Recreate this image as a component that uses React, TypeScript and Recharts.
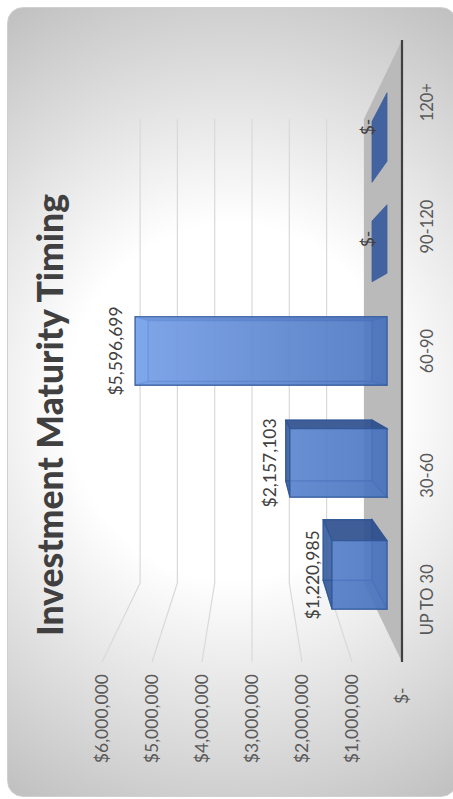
import React from 'react';
import { BarChart, Bar, XAxis, YAxis, CartesianGrid, LabelList } from 'recharts';

const categories = ['UP TO 30', '30-60', '60-90', '90-120', '120+'];
const amounts = [1220985, 2157103, 5596699, 0, 0];
const valueTicks = [0, 1000000, 2000000, 3000000, 4000000, 5000000, 6000000];

const data = categories.map((name, i) => ({ name, amount: amounts[i] }));

// fake perspective: everything is scaled toward a vanishing point
const VX = 448;
const VY = 252;
const BAR_FRONT = 0.9;
const BAR_BACK = 0.8;
const WALL = 0.746;

const project = (x: number, y: number, s: number) => [VX + (x - VX) * s, VY + (y - VY) * s];
const pts = (list: number[][]) => list.map((p) => p.join(',')).join(' ');

const money = (v: number) => (v === 0 ? '$-' : '$' + v.toLocaleString('en-US'));

// the zero line of the grid is the floor, the others climb the back wall
function Grid3D(props: any) {
    const { x1, x2, y1 } = props;
    if (y1 > 400) {
        const floor = [project(x1, y1, 1), project(x2, y1, 1), project(x2, y1, WALL), project(x1, y1, WALL)];
        return <polygon key="floor" points={pts(floor)} fill="#bababa" />;
    }
    const line = [project(x1, y1, 1), project(x1, y1, WALL), project(x2, y1, WALL)];
    return <polyline key={y1} points={pts(line)} fill="none" stroke="#d9d9d9" strokeWidth={1.2} />;
}

function Box3D(props: any) {
    const { x, y, width, height } = props;
    const l = x;
    const r = x + width;
    const t = y;
    const b = y + height;
    const f = (px: number, py: number) => project(px, py, BAR_FRONT);
    const k = (px: number, py: number) => project(px, py, BAR_BACK);
    const flat = height < 1;
    const topFill = t < VY ? '#7ba4ea' : '#2f5597';
    const edge = { stroke: '#2f5597', strokeOpacity: 0.75, strokeWidth: 1.2 };
    if (flat) {
        return <polygon points={pts([f(l, t), f(r, t), k(r, t), k(l, t)])} fill="#42639f" stroke="#3d5f9e" strokeWidth={0.8} />;
    }
    return (
        <g>
            <polygon points={pts([k(l, t), k(r, t), k(r, b), k(l, b)])} fill="#4a73ba" fillOpacity={0.55} {...edge} />
            <polygon points={pts([f(l, b), f(r, b), k(r, b), k(l, b)])} fill="#3a5fa3" fillOpacity={0.7} {...edge} />
            <polygon points={pts([f(l, t), f(l, b), k(l, b), k(l, t)])} fill="#3a62aa" fillOpacity={0.6} {...edge} />
            <polygon points={pts([f(r, t), f(r, b), k(r, b), k(r, t)])} fill="#2f4f8c" fillOpacity={0.85} {...edge} />
            <polygon points={pts([f(l, t), f(r, t), k(r, t), k(l, t)])} fill={topFill} fillOpacity={0.75} {...edge} />
            <polygon points={pts([f(l, t), f(r, t), f(r, b), f(l, b)])} fill="url(#barFace)" fillOpacity={0.82} {...edge} />
        </g>
    );
}

function BoxLabel(props: any) {
    const { x, y, width, value } = props;
    const [px, py] = project(x + width / 2, y, BAR_FRONT);
    return (
        <text x={px} y={py - 20} textAnchor="middle" dominantBaseline="central" fill="#404040" fontSize={17.5} fontFamily="Lato">
            {money(value)}
        </text>
    );
}

export default function App() {
    return (
        <div style={{ position: 'absolute', left: 0, top: 0, width: 453, height: 799, overflow: 'hidden', background: '#fff' }}>
            <div
                style={{
                    position: 'absolute',
                    left: 0,
                    top: 0,
                    width: 799,
                    height: 453,
                    transformOrigin: '0 0',
                    transform: 'translateY(799px) rotate(-90deg)',
                }}
            >
                <div
                    style={{
                        position: 'absolute',
                        left: 2,
                        top: 7,
                        width: 790,
                        height: 450,
                        boxSizing: 'border-box',
                        borderRadius: 16,
                        border: '1px solid #d0d0d0',
                        background: 'radial-gradient(ellipse 395px 366px at 50% 50%, #ffffff 45%, #cfcfcf 100%, #b8b8b8 125%)',
                    }}
                />
                <div
                    style={{
                        position: 'absolute',
                        left: 0,
                        width: 768,
                        top: 28,
                        textAlign: 'center',
                        fontFamily: 'Lato',
                        fontWeight: 900,
                        fontSize: 35.5,
                        lineHeight: '44px',
                        color: '#404040',
                    }}
                >
                    Investment Maturity Timing
                </div>
                <div style={{ position: 'absolute', left: 0, top: 0 }}>
                    <BarChart
                        width={799}
                        height={453}
                        data={data}
                        barCategoryGap="19.5%"
                        margin={{ top: 102, right: 40, bottom: 21, left: 37 }}
                    >
                        <defs>
                            <linearGradient id="barFace" gradientUnits="userSpaceOnUse" x1="0" y1="120" x2="0" y2="400">
                                <stop offset="0%" stopColor="#7ca6ee" />
                                <stop offset="100%" stopColor="#4a74bf" />
                            </linearGradient>
                        </defs>
                        <CartesianGrid vertical={false} horizontal={Grid3D} />
                        <XAxis
                            dataKey="name"
                            height={30}
                            interval={0}
                            tickLine={false}
                            axisLine={{ stroke: '#404040', strokeWidth: 2.2 }}
                            tick={{ fill: '#595959', fontSize: 16.5, fontFamily: 'Lato' }}
                            tickMargin={13}
                        />
                        <YAxis
                            width={100}
                            domain={[0, 6000000]}
                            ticks={valueTicks}
                            tickFormatter={(v: number) => (v === 0 ? '$-\u00a0\u00a0\u00a0' : money(v))}
                            tickLine={false}
                            axisLine={false}
                            tick={{ fill: '#595959', fontSize: 17.5, fontFamily: 'Lato' }}
                            tickMargin={6}
                        />
                        <Bar dataKey="amount" shape={Box3D} isAnimationActive={false}>
                            <LabelList dataKey="amount" content={BoxLabel} />
                        </Bar>
                    </BarChart>
                </div>
            </div>
        </div>
    );
}
